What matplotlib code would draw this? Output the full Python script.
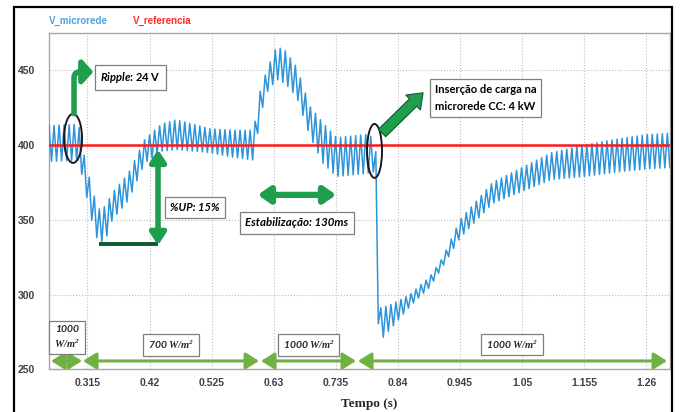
import numpy as np
import matplotlib
matplotlib.use("Agg")
import matplotlib.pyplot as plt
import matplotlib.patches as mpatches
import matplotlib.patheffects as pe

plt.rcParams['font.family'] = ['Lato', 'DejaVu Sans']
# custom math fonts: italic "Ripple" word and serif W/m^2 units
plt.rcParams['mathtext.fontset'] = 'custom'
plt.rcParams['mathtext.it'] = 'Lato:italic:bold'
plt.rcParams['mathtext.rm'] = 'Lato:bold'
plt.rcParams['mathtext.bfit'] = 'Liberation Serif:italic:bold'

# --- envelope of V_microrede (time s, upper / lower peak V) ---
env_t = [0.250, 0.300, 0.311, 0.322, 0.333, 0.345, 0.357, 0.384, 0.412, 0.440,
         0.465, 0.522, 0.560, 0.596, 0.607, 0.618, 0.635, 0.650, 0.669, 0.691,
         0.713, 0.736, 0.760, 0.785, 0.800, 0.804, 0.807, 0.812, 0.832, 0.860,
         0.894, 0.916, 0.945, 1.000, 1.050, 1.100, 1.155, 1.210, 1.260, 1.300]
env_upper = [413, 414, 390, 372, 357, 359, 368, 381, 404, 414,
             417, 411, 410, 410, 436, 450, 466, 463, 452, 426,
             415, 405, 406, 407, 405, 390, 292, 291, 294, 300,
             312, 325, 350, 375, 385, 395, 400, 404, 407, 408]
env_lower = [389, 390, 370, 350, 335, 336, 350, 363, 388, 396,
             397, 395, 392, 390, 419, 435, 444, 441, 432, 406,
             388, 379, 380, 381, 382, 375, 272, 270, 279, 292,
             305, 319, 338, 361, 369, 377, 379, 382, 384, 385]
ripple_period = 0.0085

v_ref = 400

xticks = [0.315, 0.42, 0.525, 0.63, 0.735, 0.84, 0.945, 1.05, 1.155, 1.26]
yticks = [250, 300, 350, 400, 450]

# irradiance segments (start, end, label)
irr_start = [0.2534, 0.3075, 0.6085, 0.7725]
irr_end = [0.3058, 0.6051, 0.7691, 1.2950]
irr_label = ['1000\n$\\mathbfit{W/m^2}$', '700 $\\mathbfit{W/m^2}$',
             '1000 $\\mathbfit{W/m^2}$', '1000 $\\mathbfit{W/m^2}$']
irr_label_x = [0.2804, 0.4563, 0.6888, 1.0329]
irr_label_y = [271.3, 266.3, 266.3, 266.6]

# build the rippled trace: alternate between upper and lower envelope every half period
t_half = np.arange(env_t[0], env_t[-1], ripple_period / 2)
up = np.interp(t_half, env_t, env_upper)
lo = np.interp(t_half, env_t, env_lower)
v_micro = np.where(np.arange(len(t_half)) % 2 == 0, up, lo)

fig = plt.figure(figsize=(6.8, 4.12), dpi=100)
ax = fig.add_axes([0.0721, 0.1036, 0.9132, 0.8163])

ax.plot(t_half, v_micro, color='#2e94da', lw=1.1, zorder=3)
ax.axhline(v_ref, color='#ff1a1a', lw=1.8, zorder=4)

ax.set_xlim(0.25, 1.30)
ax.set_ylim(250, 475)
ax.set_xticks(xticks)
ax.set_xticklabels([f'{x:g}' for x in xticks])
ax.set_yticks(yticks)
ax.tick_params(length=0, labelsize=7.5, colors='#404040', pad=10)
for lab in ax.get_xticklabels() + ax.get_yticklabels():
    lab.set_fontweight('bold')
    lab.set_family(['Liberation Sans', 'DejaVu Sans'])
ax.tick_params(axis='x', pad=6)
ax.grid(True, linestyle=':', color='#bdbdbd', lw=0.8)
for s in ax.spines.values():
    s.set_color('#a6a6a6')
    s.set_linewidth(1.0)

ax.set_xlabel('Tempo (s)', family=['Liberation Serif', 'DejaVu Serif'],
              fontsize=9.5, fontweight='bold', color='#262626')
ax.xaxis.set_label_coords(0.515, -0.085)

# legend texts at top
fig.text(49 / 680, 1 - 21 / 412, 'V_microrede', color='#4aa3df', fontsize=7,
         fontweight='bold', va='center', family=['Liberation Sans', 'DejaVu Sans'])
fig.text(133 / 680, 1 - 21 / 412, 'V_referencia', color='#ff2a2a', fontsize=7,
         fontweight='bold', va='center', family=['Liberation Sans', 'DejaVu Sans'])

# outer frame
fig.add_artist(mpatches.Rectangle((14 / 680, -0.02), (672 - 14) / 680, 1 - 7 / 412 + 0.02,
                                  transform=fig.transFigure, fill=False, ec='black', lw=1.6))

green = '#1f9e4b'
dark_green = '#0f5a2b'
light_green = '#6fb243'
outline = [pe.Stroke(linewidth=1.8, foreground=dark_green), pe.Normal()]
box = dict(boxstyle='square,pad=0.45', fc='white', ec='#7f7f7f', lw=0.9)

# ellipses
ax.add_patch(mpatches.Ellipse((0.2906, 404.5), 0.0304, 32.8, fill=False, ec='#1a1a1a', lw=1.4, zorder=6))
ax.add_patch(mpatches.Ellipse((0.8004, 396.1), 0.0254, 36.1, fill=False, ec='#1a1a1a', lw=1.4, zorder=6))

# ripple arrow (vertical stem, bend, head to the right)
ax.add_patch(mpatches.FancyArrowPatch((0.2923, 421.0), (0.3250, 449.0),
             connectionstyle='angle,angleA=90,angleB=0,rad=6',
             arrowstyle='-|>,head_length=0.45,head_width=0.5', mutation_scale=14,
             lw=4.0, color=green, path_effects=outline, shrinkA=0, shrinkB=0, zorder=6))
ax.text(0.3878, 445.0, r'$\mathit{Ripple}$: 24 V', fontsize=8, fontweight='bold',
        ha='center', va='center', bbox=box, zorder=7)

# %UP arrow and base line
ax.plot([0.3345, 0.4343], [333.8, 333.8], color=dark_green, lw=2.8, solid_capstyle='butt', zorder=6)
ax.add_patch(mpatches.FancyArrowPatch((0.4343, 333.0), (0.4343, 397.0),
             arrowstyle='<|-|>,head_length=0.5,head_width=0.33', mutation_scale=14,
             lw=4.0, color=green, path_effects=outline, shrinkA=0, shrinkB=0, zorder=7))
ax.text(0.4969, 358.0, '%UP: 15%', fontsize=8, fontweight='bold', style='italic',
        ha='center', va='center', bbox=box, zorder=7)

# settling arrow
ax.add_patch(mpatches.FancyArrowPatch((0.6030, 366.7), (0.7355, 366.7),
             arrowstyle='<|-|>,head_length=0.5,head_width=0.35', mutation_scale=14,
             lw=4.5, color=green, path_effects=outline, shrinkA=0, shrinkB=0, zorder=7))
ax.text(0.6693, 347.9, 'Estabilização: 130ms', fontsize=8.3, fontweight='bold', style='italic',
        ha='center', va='center', bbox=box, zorder=7)

# load insertion arrow
ax.add_patch(mpatches.FancyArrowPatch((0.8097, 406.8), (0.8858, 436.3),
             arrowstyle='simple,head_length=1.0,head_width=1.5,tail_width=0.75',
             mutation_scale=10, fc=green, ec=dark_green, lw=0.8, zorder=6))
ax.text(0.988, 431.6, 'Inserção de carga na\nmicrorede CC: 4 kW', fontsize=8, fontweight='bold',
        ha='center', va='center', linespacing=1.6, bbox=dict(box, pad=0.6), zorder=7)

# irradiance arrows and labels
for x0, x1, lab, lx, ly in zip(irr_start, irr_end, irr_label, irr_label_x, irr_label_y):
    ax.add_patch(mpatches.FancyArrowPatch((x0, 255.6), (x1, 255.6),
                 arrowstyle='<|-|>,head_length=0.8,head_width=0.5', mutation_scale=10,
                 lw=2.2, color=light_green, shrinkA=0, shrinkB=0, zorder=6))
    ax.text(lx, ly, lab, fontsize=7.5, fontweight='bold', style='italic', color='#262626',
            ha='center', va='center', linespacing=1.3, bbox=dict(box, pad=0.45), zorder=7)

fig.savefig('out.png', dpi=100)
